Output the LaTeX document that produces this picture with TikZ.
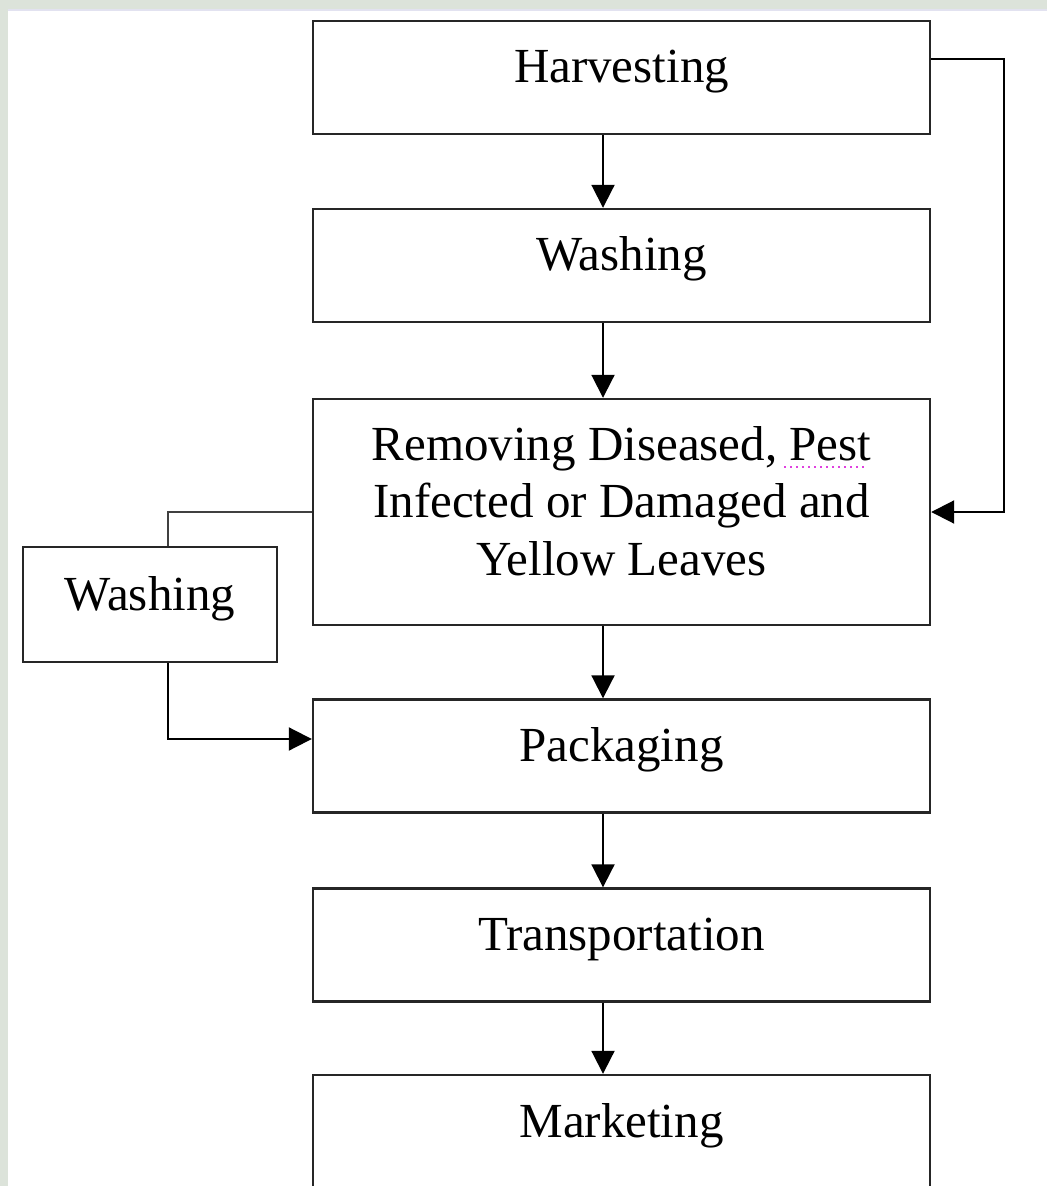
\documentclass[tikz,border=0pt]{standalone}
\usepackage{fontspec}
\setmainfont{Liberation Serif}
\usetikzlibrary{arrows.meta,positioning}
\definecolor{strip}{HTML}{DCE3DA}
\definecolor{edgeline}{HTML}{E2E2F0}
\definecolor{spell}{HTML}{E040E0}
\tikzset{
  stagebox/.style={draw=black!85, line width=1.2pt, fill=white, inner sep=0pt,
    minimum width=308.5pt, minimum height=56.5pt, align=center,
    font=\fontsize{24.5}{28.75}\selectfont, text height=18pt, text depth=12.5pt},
  flow/.style={line width=1pt, -{Triangle[length=11.5pt,width=11.5pt]}}
}
\begin{document}
\begin{tikzpicture}[x=0.5pt,y=-0.5pt]
  \clip (0,0) rectangle (1047,1186);
  % Page
  \fill[strip] (0,0) rectangle (1047,1186);
  \fill[white] (8,10) rectangle (1047,1186);
  \draw[edgeline,line width=1pt] (8,10) -- (1047,10);

  % Stages
  \node[stagebox] (harv) at (621.5,77.5) {Harvesting};
  \node[stagebox] (wash) at (621.5,265.5) {Washing};
  \node[stagebox,minimum height=113pt,text height=75.5pt] (remove) at (621.5,512)
    {Removing Diseased, Pest\\Infected or Damaged and\\Yellow Leaves};
  \node[stagebox,minimum width=127pt,minimum height=57.5pt] (rewash) at (150,604.5) {Washing};
  \node[stagebox] (pack) at (621.5,756) {Packaging};
  \node[stagebox] (trans) at (621.5,945) {Transportation};
  \node[stagebox] (market) at (621.5,1131.5) {Marketing};

  % Main line
  \foreach \a/\b in {harv/wash,wash/remove,remove/pack,pack/trans,trans/market}
    \draw[flow] ([xshift=-9.25pt]\a.south) -- ([xshift=-9.25pt]\b.north);

  % Side routes
  \draw[flow] ([yshift=9.25pt]harv.east) -- ++(73,0) |- (remove.east);
  \draw[line width=0.9pt,black!75] (remove.west) -| ([xshift=9pt]rewash.north);
  \draw[flow] ([xshift=9pt]rewash.south) |- ([yshift=8.5pt]pack.west);

  % Spelling mark
  \draw[spell,line width=1pt,dash pattern=on 1pt off 2pt] (784,467) -- (865,467);
\end{tikzpicture}
\end{document}
